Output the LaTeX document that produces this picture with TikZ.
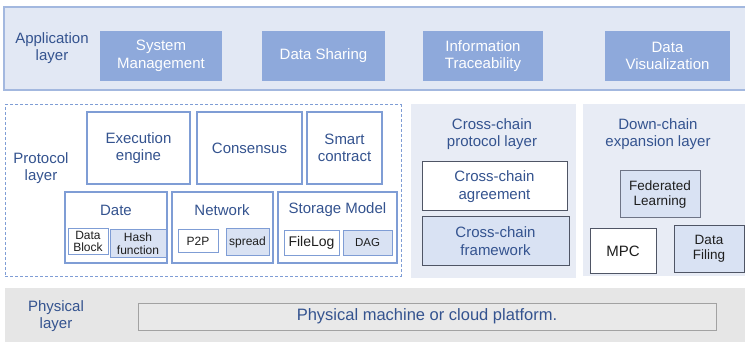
\documentclass[tikz,border=0pt]{standalone}
\usepackage{fontspec}
\setmainfont{Liberation Sans}
\definecolor{appfill}{HTML}{E2E8F4}
\definecolor{appedge}{HTML}{A3B8DF}
\definecolor{appbox}{HTML}{8EA9DB}
\definecolor{navy}{HTML}{34538F}
\definecolor{edgeblue}{HTML}{7F9DD5}
\definecolor{subfill}{HTML}{D9E2F3}
\definecolor{sidefill}{HTML}{E8ECF5}
\definecolor{darkedge}{HTML}{4F5565}
\definecolor{greyedge}{HTML}{6E7486}
\definecolor{physfill}{HTML}{E6E6E6}
\definecolor{physedge}{HTML}{A2A2A2}
\definecolor{physbox}{HTML}{E9E9E9}
\definecolor{ink}{HTML}{1E1E1E}

% box from corner (x1,y1) to (x2,y2): \areabox{style}{x1}{y1}{x2}{y2}{name}{text}
\newcommand\areabox[7]{%
  \node[#1, minimum width={(#4-#2)*1pt}, minimum height={(#5-#3)*1pt}]
    (#6) at ({(#2+#4)/2},{(#3+#5)/2}) {#7};}

\tikzset{
  base/.style={rectangle, inner sep=0pt, outer sep=0pt, align=center},
  fs/.style 2 args={font=\fontsize{#1}{#2}\selectfont},
  appbg/.style={base, fill=appfill, draw=appedge, line width=1.3pt},
  appitem/.style={base, fill=appbox, text=white, fs={15}{17.5}},
  lbl/.style={base, text=navy, fs={15}{17.5}},
  modbox/.style={base, fill=white, draw=edgeblue, line width=1.1pt, text=navy, fs={15}{17.5}},
  subwhite/.style={base, fill=white, draw=edgeblue, line width=1pt, text=ink},
  subblue/.style={base, fill=subfill, draw=edgeblue, line width=1pt, text=ink},
  dashbox/.style={base, draw=edgeblue, line width=1pt, dash pattern=on 3pt off 2pt},
  sidebg/.style={base, fill=sidefill},
  physbg/.style={base, fill=physfill},
  physitem/.style={base, fill=physbox, draw=physedge, line width=1pt, text=navy, fs={16.5}{19}},
}

\begin{document}
\begin{tikzpicture}[x=1pt, y=-1pt]
\useasboundingbox (0,0) rectangle (745,342);
\fill[white] (0,0) rectangle (745,342);

% ---- application layer ----
\areabox{appbg}{4}{7}{746}{90}{app}{}
\node[lbl] (applbl) at (52,48) {Application\\layer};
\areabox{appitem}{100}{31}{222}{81}{sysm}{System\\Management}
\areabox{appitem}{262}{31}{385}{81}{share}{Data Sharing}
\areabox{appitem}{423}{31}{543}{81}{trace}{Information\\Traceability}
\areabox{appitem}{605}{31}{730}{81}{vis}{Data\\Visualization}

% ---- protocol layer ----
\areabox{dashbox}{5}{105}{401}{276}{proto}{}
\node[lbl] (protolbl) at (41,168) {Protocol\\layer};
\areabox{modbox}{87}{112}{190}{184}{exec}{Execution\\engine}
\areabox{modbox}{197}{112}{302}{184}{cons}{Consensus}
\areabox{modbox}{307}{112}{382}{184}{smart}{Smart\\contract}

\areabox{modbox}{65}{192}{167}{263}{date}{}
\areabox{modbox}{172}{192}{273}{263}{net}{}
\areabox{modbox}{278}{192}{397}{263}{store}{}
\node[lbl] (datelbl) at (116,210) {Date};
\node[lbl] (netlbl) at (222,210) {Network};
\node[lbl] (storelbl) at (337.5,210) {Storage Model};

\areabox{subwhite, fs={12}{12.5}}{68}{229}{108}{254}{blk}{Data\\Block}
\areabox{subblue, fs={12}{12.5}}{110}{230}{166}{257}{hash}{Hash\\function}
\areabox{subwhite, fs={12}{13}}{178}{230}{218}{252}{p2p}{P2P}
\areabox{subblue, fs={12}{13}}{226}{229}{269}{255}{spread}{spread}
\areabox{subwhite, fs={14}{15}}{284}{231}{339}{255}{flog}{FileLog}
\areabox{subblue, fs={11.5}{13}}{343}{231}{392}{255}{dag}{DAG}

% ---- cross-chain protocol layer ----
\areabox{sidebg}{411}{104}{576}{278}{cross}{}
\node[lbl] (crosslbl) at (492,134) {Cross-chain\\protocol layer};
\areabox{subwhite, draw=darkedge, text=navy, fs={15}{17.5}}{422}{162}{567}{211}{agree}{Cross-chain\\agreement}
\areabox{subblue, draw=darkedge, text=navy, fs={15}{17.5}}{422}{217}{569}{265}{frame}{Cross-chain\\framework}

% ---- down-chain expansion layer ----
\areabox{sidebg}{583}{104}{746}{276}{down}{}
\node[lbl] (downlbl) at (658,134) {Down-chain\\expansion layer};
\areabox{subblue, draw=greyedge, fs={13.5}{15.5}}{620}{171}{700}{218}{fed}{Federated\\Learning}
\areabox{subwhite, draw=darkedge, fs={15}{17}}{590}{229}{656}{273}{mpc}{MPC}
\areabox{subblue, draw=darkedge, fs={13.5}{15.5}}{674}{226}{744}{272}{filing}{Data\\Filing}

% ---- physical layer ----
\areabox{physbg}{5}{288}{746}{343}{phys}{}
\node[lbl] (physlbl) at (56,316) {Physical\\layer};
\areabox{physitem}{138}{303}{716}{330}{cloud}{Physical machine or cloud platform.}
\end{tikzpicture}
\end{document}
